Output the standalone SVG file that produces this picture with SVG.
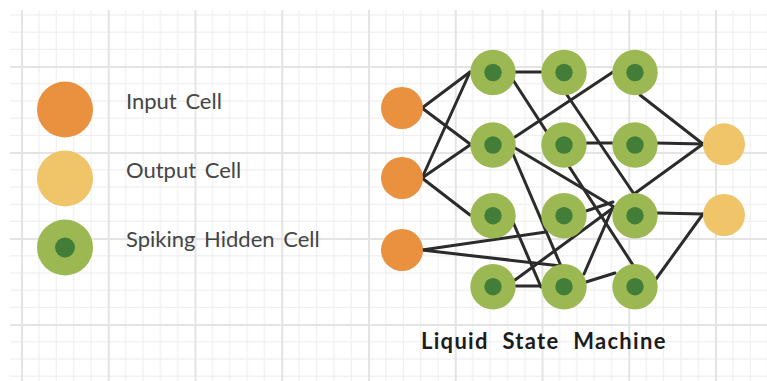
<svg xmlns="http://www.w3.org/2000/svg" width="767" height="381" viewBox="0 0 767 381">
<defs>
<pattern id="grid" patternUnits="userSpaceOnUse" x="21" y="66" width="86.75" height="86">
<rect x="17.35" y="0" width="1.2" height="86" fill="#efefef"/>
<rect x="34.7" y="0" width="1.2" height="86" fill="#efefef"/>
<rect x="52.05" y="0" width="1.2" height="86" fill="#efefef"/>
<rect x="69.4" y="0" width="1.2" height="86" fill="#efefef"/>
<rect x="0" y="17.2" width="86.75" height="1.2" fill="#efefef"/>
<rect x="0" y="34.4" width="86.75" height="1.2" fill="#efefef"/>
<rect x="0" y="51.6" width="86.75" height="1.2" fill="#efefef"/>
<rect x="0" y="68.8" width="86.75" height="1.2" fill="#efefef"/>
<rect x="0" y="0" width="2" height="86" fill="#e4e4e4"/>
<rect x="0" y="0" width="86.75" height="2" fill="#e4e4e4"/>
</pattern>
<style>
.in{fill:#e9913f}
.out{fill:#f0c468}
.hid{fill:#9cb852}
.core{fill:#437e39}
.lbl{font-family:Lato,"Open Sans",sans-serif;font-size:22px;fill:#454545;word-spacing:3px}
.title{font-family:Lato,"Open Sans",sans-serif;font-size:22px;font-weight:bold;fill:#1c1c1c;letter-spacing:1.3px;word-spacing:7px}
#edges line{stroke:#2b2b2b;stroke-width:3;stroke-linecap:round}
</style>
</defs>
<rect width="767" height="381" fill="#ffffff"/>
<rect x="10" y="10" width="757" height="371" fill="url(#grid)"/>

<g id="legend-input"><circle class="in" cx="65" cy="109.5" r="28"/><text class="lbl" x="126" y="109">Input Cell</text></g>
<g id="legend-output"><circle class="out" cx="65" cy="178.5" r="28"/><text class="lbl" x="126" y="178">Output Cell</text></g>
<g id="legend-hidden"><circle class="hid" cx="65" cy="247.5" r="28"/><circle class="core" cx="65" cy="247.5" r="10"/><text class="lbl" x="126" y="247">Spiking Hidden Cell</text></g>

<g id="edges">
<line x1="422" y1="108" x2="470" y2="72"/>
<line x1="422" y1="108" x2="470" y2="144"/>
<line x1="422" y1="178" x2="470" y2="72"/>
<line x1="422" y1="178" x2="470" y2="145"/>
<line x1="422" y1="178" x2="470" y2="215"/>
<line x1="422" y1="250" x2="546" y2="232"/>
<line x1="422" y1="250" x2="561" y2="266"/>
<line x1="515" y1="72" x2="541" y2="72"/>
<line x1="513" y1="80" x2="633" y2="265"/>
<line x1="567" y1="95" x2="634" y2="194"/>
<line x1="640" y1="95" x2="703" y2="144"/>
<line x1="515" y1="137" x2="613" y2="72"/>
<line x1="515" y1="148" x2="614" y2="207"/>
<line x1="513" y1="154" x2="561" y2="266"/>
<line x1="585" y1="143" x2="614" y2="143"/>
<line x1="656" y1="143" x2="703" y2="144"/>
<line x1="513" y1="222" x2="541" y2="287"/>
<line x1="586" y1="211" x2="613" y2="202"/>
<line x1="634" y1="194" x2="703" y2="144"/>
<line x1="657" y1="213" x2="703" y2="214"/>
<line x1="515" y1="286" x2="541" y2="286"/>
<line x1="515" y1="280" x2="613" y2="208"/>
<line x1="584" y1="274" x2="613" y2="207"/>
<line x1="586" y1="282" x2="615" y2="273"/>
<line x1="656" y1="279" x2="703" y2="214"/>
</g>

<g id="in1"><circle class="in" cx="402" cy="108" r="21"/></g>
<g id="in2"><circle class="in" cx="402" cy="178" r="21"/></g>
<g id="in3"><circle class="in" cx="402" cy="250" r="21"/></g>

<g id="h11"><circle class="hid" cx="493" cy="72.5" r="22.7"/><circle class="core" cx="493" cy="72.5" r="8.7"/></g>
<g id="h12"><circle class="hid" cx="564" cy="72.5" r="22.7"/><circle class="core" cx="564" cy="72.5" r="8.7"/></g>
<g id="h13"><circle class="hid" cx="635" cy="72.5" r="22.7"/><circle class="core" cx="635" cy="72.5" r="8.7"/></g>
<g id="h21"><circle class="hid" cx="493" cy="145" r="22.7"/><circle class="core" cx="493" cy="145" r="8.7"/></g>
<g id="h22"><circle class="hid" cx="564" cy="145" r="22.7"/><circle class="core" cx="564" cy="145" r="8.7"/></g>
<g id="h23"><circle class="hid" cx="635" cy="145" r="22.7"/><circle class="core" cx="635" cy="145" r="8.7"/></g>
<g id="h31"><circle class="hid" cx="493" cy="215.7" r="22.7"/><circle class="core" cx="493" cy="215.7" r="8.7"/></g>
<g id="h32"><circle class="hid" cx="564" cy="215.7" r="22.7"/><circle class="core" cx="564" cy="215.7" r="8.7"/></g>
<g id="h33"><circle class="hid" cx="635" cy="215.7" r="22.7"/><circle class="core" cx="635" cy="215.7" r="8.7"/></g>
<g id="h41"><circle class="hid" cx="493" cy="286.7" r="22.7"/><circle class="core" cx="493" cy="286.7" r="8.7"/></g>
<g id="h42"><circle class="hid" cx="564" cy="286.7" r="22.7"/><circle class="core" cx="564" cy="286.7" r="8.7"/></g>
<g id="h43"><circle class="hid" cx="635" cy="286.7" r="22.7"/><circle class="core" cx="635" cy="286.7" r="8.7"/></g>

<g id="out1"><circle class="out" cx="724" cy="144.3" r="21"/></g>
<g id="out2"><circle class="out" cx="724" cy="215" r="21"/></g>

<text class="title" x="421" y="349">Liquid State Machine</text>
</svg>
